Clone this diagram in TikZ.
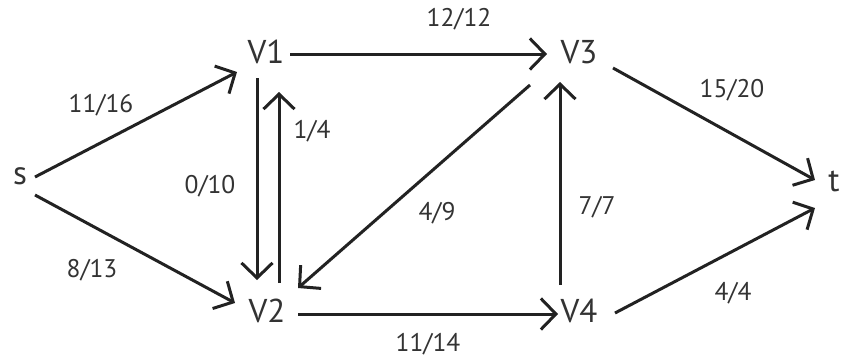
\documentclass[tikz,border=0pt]{standalone}
\usepackage{fontspec}
\setmainfont{PT Sans}
\usetikzlibrary{arrows.meta}
\definecolor{ink}{HTML}{222222}
\definecolor{txt}{HTML}{333333}
\begin{document}
\begin{tikzpicture}[x=1pt,y=-1pt,
  vtx/.style={inner sep=0pt,text=txt,font=\fontsize{33}{33}\selectfont,text depth=0pt},
  lbl/.style={inner sep=0pt,text=txt,font=\fontsize{25.5}{25.5}\selectfont},
  arr/.style={draw=ink,line width=3pt,-{Straight Barb[length=15pt,width=31pt,line width=3pt]}}]
\useasboundingbox (0,0) rectangle (843,359);
\node[vtx] (s) at (20,176) {s};
\node[vtx] (V1) at (266,52) {V1};
\node[vtx] (V3) at (579,52) {V3};
\node[vtx] (t) at (834,181) {t};
\node[vtx] (V2) at (267,311) {V2};
\node[vtx] (V4) at (579,311) {V4};
% connectors
\draw[arr] ([shift={(15,1)}]s.center) -- ([shift={(-29,20)}]V1.center);
\draw[arr] ([shift={(15,19)}]s.center) -- ([shift={(-32,-8)}]V2.center);
\draw[arr] ([shift={(-9,26)}]V1.center) -- ([shift={(-10,-31)}]V2.center);
\draw[arr] ([shift={(12,-28)}]V2.center) -- ([shift={(13,40)}]V1.center);
\draw[arr] ([shift={(24,2)}]V1.center) -- ([shift={(-32,2)}]V3.center);
\draw[arr] ([shift={(-49,33)}]V3.center) -- ([shift={(31,-23)}]V2.center);
\draw[arr] ([shift={(31,3)}]V2.center) -- ([shift={(-21,3)}]V4.center);
\draw[arr] ([shift={(-19,-26)}]V4.center) -- ([shift={(-19,30)}]V3.center);
\draw[arr] ([shift={(34,16)}]V3.center) -- ([shift={(-19,-1)}]t.center);
\draw[arr] ([shift={(36,2)}]V4.center) -- ([shift={(-19,27)}]t.center);
% labels
\node[lbl] (l1) at (101,105) {11/16};
\node[lbl] (l2) at (92,270) {8/13};
\node[lbl] (l3) at (210,186) {0/10};
\node[lbl] (l4) at (312,131) {1/4};
\node[lbl] (l5) at (459,19) {12/12};
\node[lbl] (l6) at (437,213) {4/9};
\node[lbl] (l7) at (597,207) {7/7};
\node[lbl] (l8) at (428,344) {11/14};
\node[lbl] (l9) at (732,90) {15/20};
\node[lbl] (l10) at (733,293) {4/4};
\end{tikzpicture}
\end{document}
